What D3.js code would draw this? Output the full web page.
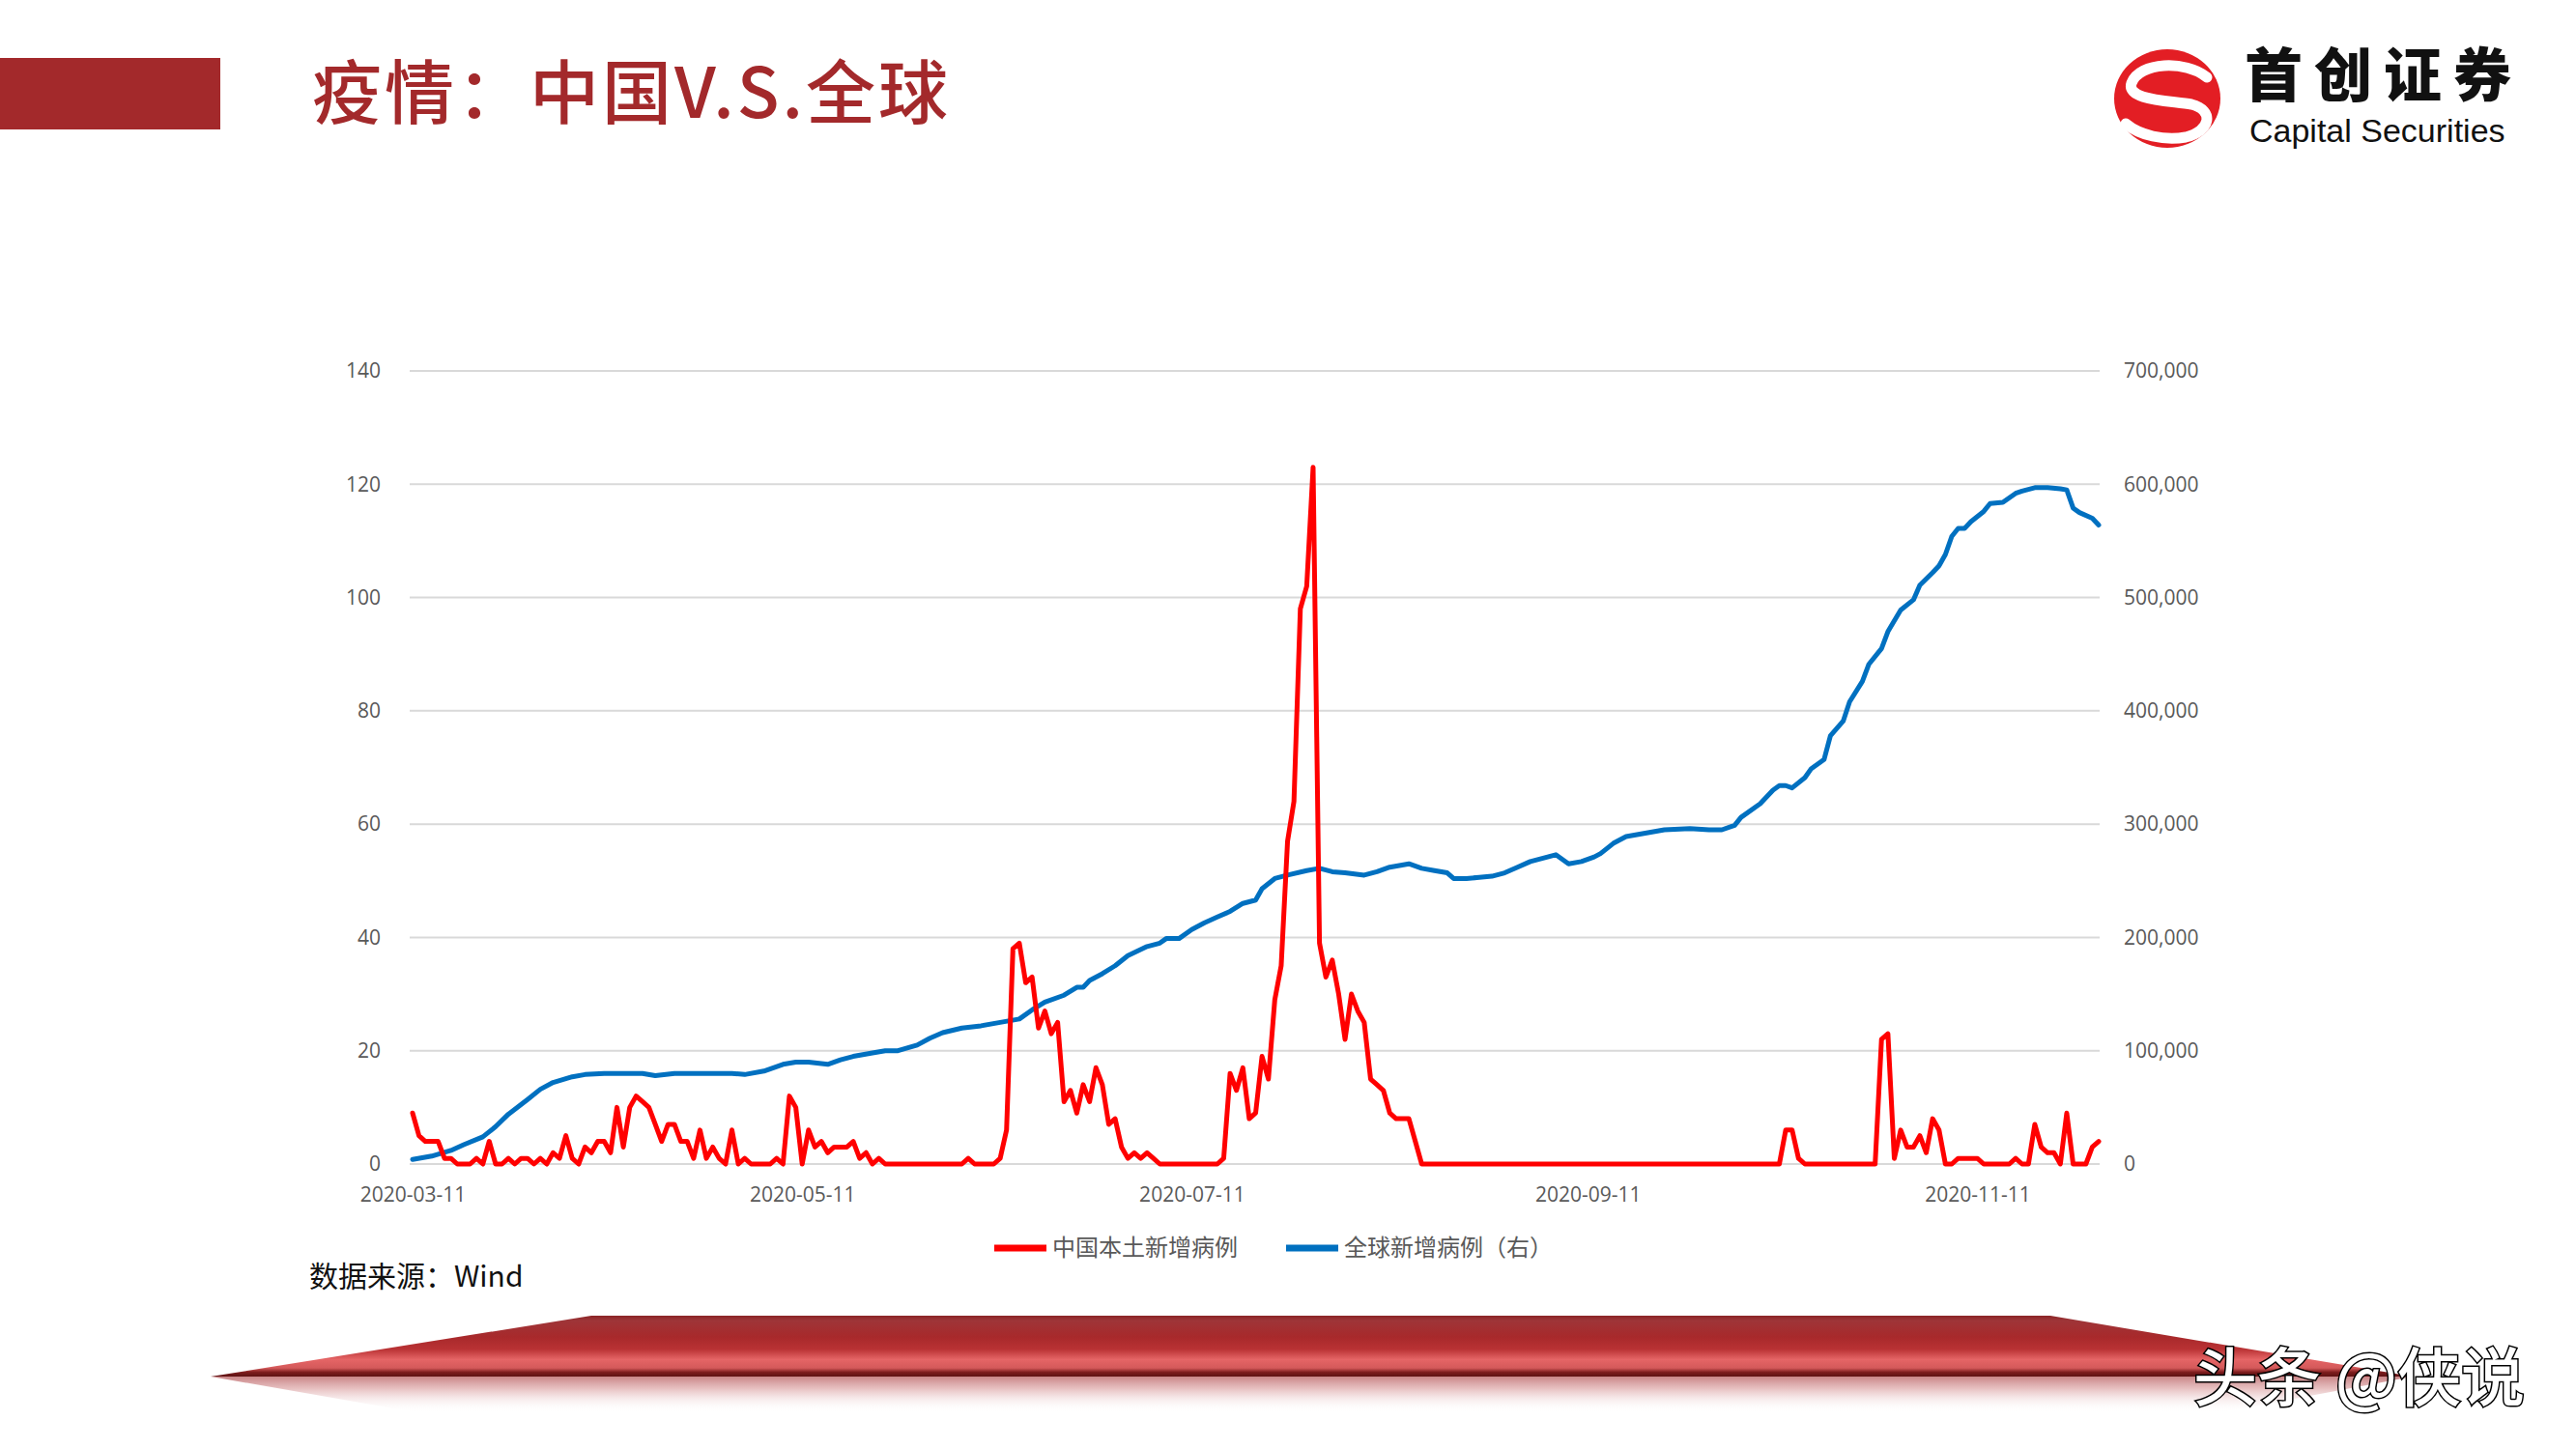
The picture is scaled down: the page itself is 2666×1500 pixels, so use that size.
<!DOCTYPE html>
<html><head><meta charset="utf-8">
<script src="https://cdn.jsdelivr.net/npm/d3@7"></script>
<style>body{margin:0;background:#fff;} svg{display:block;}</style>
</head><body>
<svg id="c" width="2666" height="1500"></svg>
<script>
// ---------------- data ----------------
const startDate = "2020-03-11";
const endDate = "2020-11-30";
const xTickLabels = ["2020-03-11", "2020-05-11", "2020-07-11", "2020-09-11", "2020-11-11"];
const leftTicks = [0, 20, 40, 60, 80, 100, 120, 140];
const rightTicks = [0, 100000, 200000, 300000, 400000, 500000, 600000, 700000];
const seriesNames = ["中国本土新增病例", "全球新增病例（右）"];

// China local new cases, daily from 2020-03-11
const chinaLocalNew = [
  9,5,4,4,4,1,1,0,0,0,
  1,0,4,0,0,1,0,1,1,0,
  1,0,2,1,5,1,0,3,2,4,
  4,2,10,3,10,12,11,10,7,4,
  7,7,4,4,1,6,1,3,1,0,
  6,0,1,0,0,0,0,1,0,12,
  10,0,6,3,4,2,3,3,3,4,
  1,2,0,1,0,0,0,0,0,0,
  0,0,0,0,0,0,0,1,0,0,
  0,0,1,6,38,39,32,33,24,27,
  23,25,11,13,9,14,11,17,14,7,
  8,3,1,2,1,2,1,0,0,0,
  0,0,0,0,0,0,0,1,16,13,
  17,8,9,19,15,29,35,57,64,98,
  102,123,39,33,36,30,22,30,27,25,
  15,14,13,9,8,8,8,4,0,0,
  0,0,0,0,0,0,0,0,0,0,
  0,0,0,0,0,0,0,0,0,0,
  0,0,0,0,0,0,0,0,0,0,
  0,0,0,0,0,0,0,0,0,0,
  0,0,0,0,0,0,0,0,0,0,
  0,0,0,0,0,6,6,1,0,0,
  0,0,0,0,0,0,0,0,0,0,
  22,23,1,6,3,3,5,2,8,6,
  0,0,1,1,1,1,0,0,0,0,
  0,1,0,0,7,3,2,2,0,9,
  0,0,0,3,4
];

// Global new cases (right axis), sampled days after 2020-03-11
const globalDayOffset = [
  0,3,6,8,11,13,15,18,20,22,25,27,30,33,36,38,41,44,47,50,52,55,58,60,62,65,67,69,72,74,76,79,81,83,86,89,92,95,97,99,
  102,104,105,106,108,110,112,115,117,118,120,122,124,126,128,130,132,133,135,137,140,142,144,146,149,151,153,156,158,160,
  162,163,165,167,169,171,173,175,177,179,181,183,185,186,188,190,193,196,200,203,205,207,208,211,213,214,215,216,218,219,
  221,222,224,225,227,228,230,231,233,235,236,238,239,240,241,242,243,244,246,247,249,251,252,254,256,258,259,260,261,263,264
];
const globalNew = [
  4000,7000,12000,17000,24000,33000,44000,57000,66000,72000,77000,79000,80000,80000,80000,78000,80000,80000,80000,80000,79000,82000,88000,90000,90000,88000,92000,95000,98000,100000,100000,105000,111000,116000,120000,122000,125000,128000,136000,143000,
  149000,156000,156000,162000,168000,175000,184000,192000,195000,199000,199000,207000,213000,218000,223000,230000,233000,243000,252000,255000,259000,261000,258000,257000,255000,258000,262000,265000,261000,259000,
  257000,252000,252000,253000,254000,257000,262000,267000,270000,273000,265000,267000,271000,274000,283000,289000,292000,295000,296000,295000,295000,299000,306000,318000,330000,334000,334000,332000,341000,349000,
  357000,378000,391000,408000,426000,441000,455000,470000,489000,498000,511000,522000,528000,538000,554000,561000,561000,567000,576000,583000,584000,592000,594000,597000,597000,596000,595000,579000,575000,570000,564000
];

// ---------------- drawing ----------------
const svg = d3.select("#c");
const parse = d3.timeParse("%Y-%m-%d");
const t0 = parse(startDate);

const x = d3.scaleTime().domain([t0, parse(endDate)]).range([427, 2172]);
const yL = d3.scaleLinear().domain([0, 140]).range([1205, 384]);
const yR = d3.scaleLinear().domain([0, 700000]).range([1205, 384]);

const defs = svg.append("defs");

// header bar + title
svg.append("rect").attr("x", 0).attr("y", 60).attr("width", 228).attr("height", 74).attr("fill", "#a3292b");
svg.append("text").attr("x", 323).attr("y", 122)
  .attr("font-family", "'Noto Sans CJK SC'").attr("font-size", 72).attr("font-weight", 500)
  .attr("letter-spacing", 3).attr("fill", "#a3292b").text("疫情：中国V.S.全球");

// logo
const logo = svg.append("g");
logo.append("ellipse").attr("cx", 2243).attr("cy", 102).attr("rx", 55).attr("ry", 51).attr("fill", "#e31e24");
logo.append("path")
  .attr("d", "M2284,80 C2262,62 2214,64 2206,86 C2200,104 2246,104 2268,108 C2292,114 2288,136 2262,142 C2240,146 2214,140 2200,128")
  .attr("fill", "none").attr("stroke", "#fff").attr("stroke-width", 11).attr("stroke-linecap", "round");
svg.append("text").attr("x", 2323).attr("y", 100)
  .attr("font-family", "'Noto Sans CJK SC'").attr("font-size", 60).attr("font-weight", 900)
  .attr("letter-spacing", 12).attr("fill", "#111").text("首创证券");
svg.append("text").attr("x", 2328).attr("y", 147)
  .attr("font-family", "'Liberation Sans', Arial").attr("font-size", 34)
  .attr("fill", "#111").text("Capital Securities");

// gridlines
svg.append("g").selectAll("line").data(leftTicks).join("line")
  .attr("x1", 424).attr("x2", 2173)
  .attr("y1", d => yL(d)).attr("y2", d => yL(d))
  .attr("stroke", "#d9d9d9").attr("stroke-width", 2);

// axes
const tickFont = "'Open Sans', 'DejaVu Sans', sans-serif";
function styleAxis(g) {
  g.select(".domain").remove();
  g.selectAll("text").attr("font-family", tickFont).attr("font-size", 21).attr("fill", "#595959");
}
svg.append("g").attr("transform", "translate(394,0)")
  .call(d3.axisLeft(yL).tickValues(leftTicks).tickSize(0).tickPadding(0))
  .call(styleAxis);
svg.append("g").attr("transform", "translate(2198,0)")
  .call(d3.axisRight(yR).tickValues(rightTicks).tickSize(0).tickPadding(0).tickFormat(d3.format(",")))
  .call(styleAxis);
svg.append("g").attr("transform", "translate(0,1229)")
  .call(d3.axisBottom(x).tickValues(xTickLabels.map(parse)).tickSize(0).tickPadding(0)
    .tickFormat(d3.timeFormat("%Y-%m-%d")))
  .call(styleAxis);

// series
const chinaData = chinaLocalNew.map((v, i) => ({ date: d3.timeDay.offset(t0, i), v }));
const globalData = globalNew.map((v, i) => ({ date: d3.timeDay.offset(t0, globalDayOffset[i]), v }));

svg.append("path").datum(globalData)
  .attr("fill", "none").attr("stroke", "#0070c0").attr("stroke-width", 5)
  .attr("stroke-linejoin", "round").attr("stroke-linecap", "round")
  .attr("d", d3.line().x(d => x(d.date)).y(d => yR(d.v)));
svg.append("path").datum(chinaData)
  .attr("fill", "none").attr("stroke", "#ff0000").attr("stroke-width", 5)
  .attr("stroke-linejoin", "round").attr("stroke-linecap", "round")
  .attr("d", d3.line().x(d => x(d.date)).y(d => yL(d.v)));

// legend
const legendColors = ["#ff0000", "#0070c0"];
const legendX = [1029, 1331];
const lg = svg.append("g").selectAll("g").data(seriesNames).join("g")
  .attr("transform", (d, i) => `translate(${legendX[i]},1292)`);
lg.append("line").attr("x1", 0).attr("x2", 54).attr("y1", 0).attr("y2", 0)
  .attr("stroke", (d, i) => legendColors[i]).attr("stroke-width", 7);
lg.append("text").attr("x", 60).attr("y", 0).attr("dy", "0.35em")
  .attr("font-family", "'Noto Sans CJK SC'").attr("font-size", 24).attr("fill", "#595959")
  .text(d => d);

// source note
svg.append("text").attr("x", 320).attr("y", 1332)
  .attr("font-family", "'Noto Sans CJK SC'").attr("font-size", 30).attr("fill", "#111")
  .text("数据来源：Wind");

// bottom ribbon
const g1 = defs.append("linearGradient").attr("id", "rib").attr("x1", 0).attr("y1", 0).attr("x2", 0).attr("y2", 1);
[[0, "#8a2426"], [0.08, "#9e3538"], [0.35, "#a8292b"], [0.55, "#b93234"], [0.72, "#e56566"], [0.86, "#d4595a"], [0.93, "#7c1c1d"], [1, "#5e1213"]]
  .forEach(([o, c]) => g1.append("stop").attr("offset", o).attr("stop-color", c));
const g2 = defs.append("linearGradient").attr("id", "refl").attr("x1", 0).attr("y1", 0).attr("x2", 0).attr("y2", 1);
[[0, "#c98486", 1], [0.35, "#e2b3b4", 0.8], [1, "#ffffff", 0]]
  .forEach(([o, c, a]) => g2.append("stop").attr("offset", o).attr("stop-color", c).attr("stop-opacity", a));
svg.append("path").attr("d", "M218,1425 L430,1462 L2300,1462 L2497,1425 Z").attr("fill", "url(#refl)");
svg.append("path").attr("d", "M218,1425 L612,1362 L2122,1362 L2497,1425 Z").attr("fill", "url(#rib)");

// watermark
svg.append("text").attr("x", 2270).attr("y", 1450)
  .attr("font-family", "'Noto Sans CJK SC'").attr("font-size", 66).attr("font-weight", 500)
  .attr("fill", "#fff").attr("stroke", "#000").attr("stroke-width", 3).attr("paint-order", "stroke")
  .text("头条 @侠说");
</script>
</body></html>
